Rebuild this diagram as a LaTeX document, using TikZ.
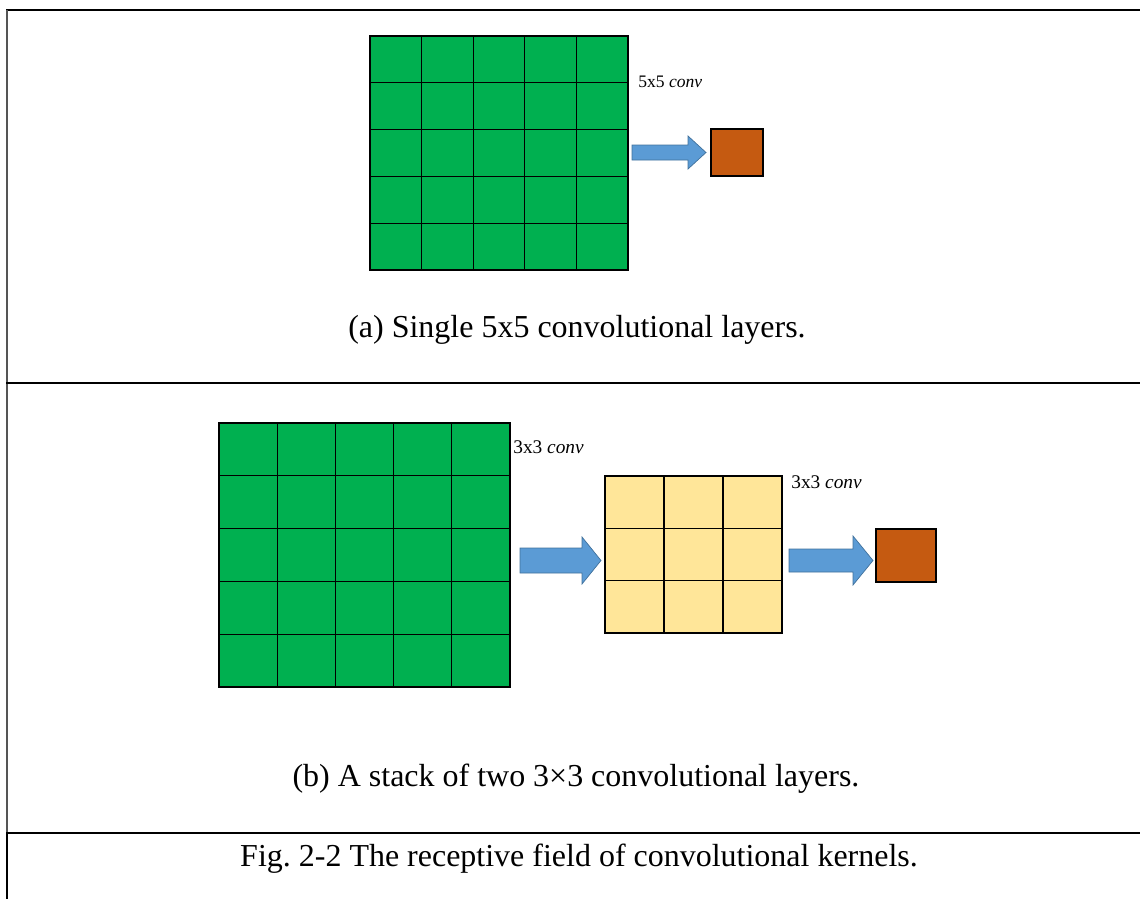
\documentclass[tikz,border=0pt]{standalone}
\usepackage{fontspec}
\setmainfont{Liberation Serif}
\frenchspacing
\definecolor{cellgreen}{HTML}{00B050}
\definecolor{cellyellow}{HTML}{FFE699}
\definecolor{outorange}{HTML}{C55A11}
\definecolor{arrowblue}{HTML}{5B9BD5}
\definecolor{arrowedge}{HTML}{41719C}
\definecolor{framegray}{HTML}{555555}
\tikzset{
  frameline/.style={line width=0.04cm, black},
  greencell/.style={draw=black, fill=cellgreen, line width=0.7pt},
  yellowcell/.style={draw=black, fill=cellyellow, line width=0.7pt},
  outbox/.style={draw=black, fill=outorange, line width=0.7pt},
  blockarrow/.style={draw=arrowedge, fill=arrowblue, line width=0.4pt},
  caption/.style={inner sep=0pt, font=\fontsize{18.2}{20}\selectfont},
  convlabel/.style={inner sep=0pt}
}
\begin{document}
\begin{tikzpicture}[x=0.02cm, y=-0.02cm]
\useasboundingbox (0,0) rectangle (1140,899);
% frame of the table
\draw[frameline] (6,10) -- (1140,10);
\draw[line width=0.03cm, framegray] (7,10) -- (7,833);
\draw[frameline] (6,383) -- (1140,383);
\draw[frameline] (6,833) -- (1140,833);
\draw[frameline] (7,833) -- (7,899);
% (a) single 5x5
\foreach \i in {0,...,4}
  \foreach \j in {0,...,4}
    \draw[greencell] (370+\i*51.6,36+\j*46.8) rectangle ++(51.6,46.8);
\draw[blockarrow] (632,145) -- (688,145) -- (688,136) -- (706,152.5) -- (688,169) -- (688,160) -- (632,160) -- cycle;
\draw[outbox] (711,129) rectangle (763,176);
\node[convlabel, anchor=base west, font=\fontsize{10}{12}\selectfont] (labA) at (638,87) {5x5 \textit{conv}};
\node[caption, anchor=base] (capA) at (577,337) {(a) Single 5x5 convolutional layers.};
% (b) two stacked 3x3
\foreach \i in {0,...,4}
  \foreach \j in {0,...,4}
    \draw[greencell] (219+\i*58.2,423+\j*52.8) rectangle ++(58.2,52.8);
\foreach \i in {0,...,2}
  \foreach \j in {0,...,2}
    \draw[yellowcell] (605+\i*59,476+\j*52.33) rectangle ++(59,52.33);
\draw[blockarrow] (520,548) -- (582,548) -- (582,537) -- (601,560.5) -- (582,584) -- (582,573) -- (520,573) -- cycle;
\draw[blockarrow] (789,549) -- (853,549) -- (853,536) -- (873,560.5) -- (853,585) -- (853,572) -- (789,572) -- cycle;
\draw[outbox] (876,529) rectangle (936,582);
\node[convlabel, anchor=base west, font=\fontsize{11}{13}\selectfont] (labB) at (513,453) {3x3 \textit{conv}};
\node[convlabel, anchor=base west, font=\fontsize{11}{13}\selectfont] (labC) at (791,488) {3x3 \textit{conv}};
\node[caption, anchor=base] (capB) at (576,786) {(b) A stack of two 3×3 convolutional layers.};
% figure caption
\node[caption, anchor=base] (capFig) at (579,866) {Fig. 2-2 The receptive field of convolutional kernels.};
\end{tikzpicture}
\end{document}
